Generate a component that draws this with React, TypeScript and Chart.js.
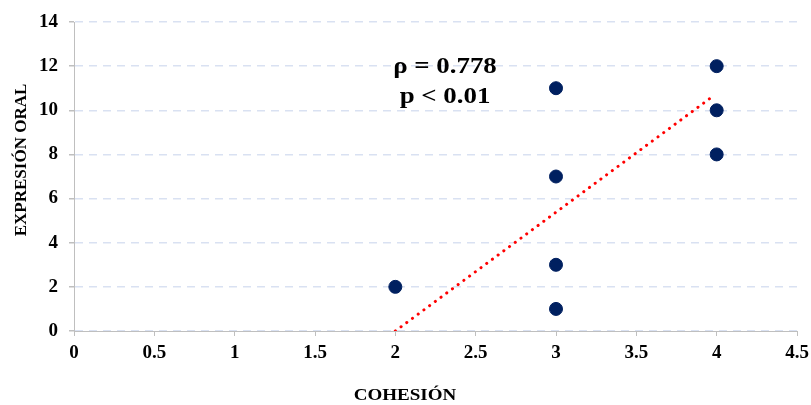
import React, { useEffect, useRef } from "react";
import { Chart, registerables } from "chart.js";

Chart.register(...registerables);

const pointsX = [2, 3, 3, 3, 3, 4, 4, 4];
const pointsY = [2, 1, 3, 7, 11, 8, 10, 12];
const trendX = [2, 3.97];
const trendY = [0, 10.6];
const statLines = ["ρ = 0.778", "p < 0.01"];
const xTitle = "COHESIÓN";
const yTitle = "EXPRESIÓN ORAL";

const FONT = '"Liberation Serif", "Times New Roman", serif';

const textPlugin = {
  id: "textPlugin",
  afterDraw(chart: any) {
    const ctx = chart.ctx;
    ctx.save();
    ctx.fillStyle = "#000";
    ctx.textAlign = "center";
    ctx.textBaseline = "middle";
    ctx.font = `bold 24px ${FONT}`;
    ctx.save();
    ctx.translate(445, 67);
    ctx.scale(1.12, 1);
    ctx.fillText(statLines[0], 0, 0);
    ctx.restore();
    ctx.save();
    ctx.translate(445, 97);
    ctx.scale(1.12, 1);
    ctx.fillText(statLines[1], 0, 0);
    ctx.restore();
    ctx.font = `bold 17px ${FONT}`;
    ctx.save();
    ctx.translate(405, 396);
    ctx.scale(1.12, 1);
    ctx.fillText(xTitle, 0, 0);
    ctx.restore();
    ctx.translate(22, 160);
    ctx.rotate(-Math.PI / 2);
    ctx.fillText(yTitle, 0, 0);
    ctx.restore();
  },
};

export default function App() {
  const ref = useRef<HTMLCanvasElement | null>(null);
  useEffect(() => {
    if (!ref.current) return;
    const chart = new Chart(ref.current, {
      type: "scatter",
      data: {
        datasets: [
          {
            type: "line",
            data: trendX.map((x, i) => ({ x, y: trendY[i] })),
            borderColor: "#ff0000",
            borderWidth: 3,
            borderDash: [0.1, 7],
            borderCapStyle: "round",
            pointRadius: 0,
            fill: false,
          } as any,
          {
            data: pointsX.map((x, i) => ({ x, y: pointsY[i] })),
            backgroundColor: "#002060",
            borderColor: "#002060",
            pointRadius: 6.5,
          },
        ],
      },
      options: {
        responsive: false,
        animation: false,
        layout: { padding: { left: 0, right: 14, top: 22, bottom: 0 } },
        plugins: { legend: { display: false }, tooltip: { enabled: false } },
        scales: {
          x: {
            type: "linear",
            min: 0,
            max: 4.5,
            ticks: {
              stepSize: 0.5,
              color: "#000",
              font: { family: FONT, size: 19, weight: "bold" },
              padding: 6,
              maxRotation: 0,
              callback: (v: any) => String(Math.round(Number(v) * 10) / 10),
            },
            grid: { drawOnChartArea: false, tickLength: 5, tickColor: "#bfbfbf" },
            border: { color: "#bfbfbf", width: 1 },
            afterFit: (s: any) => { s.height = 74; s.paddingLeft = 0; s.paddingRight = 0; },
          },
          y: {
            min: 0,
            max: 14,
            ticks: {
              stepSize: 2,
              color: "#000",
              font: { family: FONT, size: 19, weight: "bold" },
              padding: 11,
            },
            grid: { color: "#d9e1f2", lineWidth: 1.5, tickLength: 5, tickColor: "#bfbfbf", tickBorderDash: [] },
            border: { color: "#bfbfbf", width: 1, dash: [8, 6] },
            afterFit: (s: any) => { s.width = 74; s.paddingTop = 0; s.paddingBottom = 0; },
          },
        },
      } as any,
      plugins: [textPlugin],
    });
    return () => chart.destroy();
  }, []);
  return (
    <div style={{ position: "absolute", left: 0, top: 0, width: 811, height: 405, background: "#fff" }}>
      <canvas ref={ref} width={811} height={405} />
    </div>
  );
}
